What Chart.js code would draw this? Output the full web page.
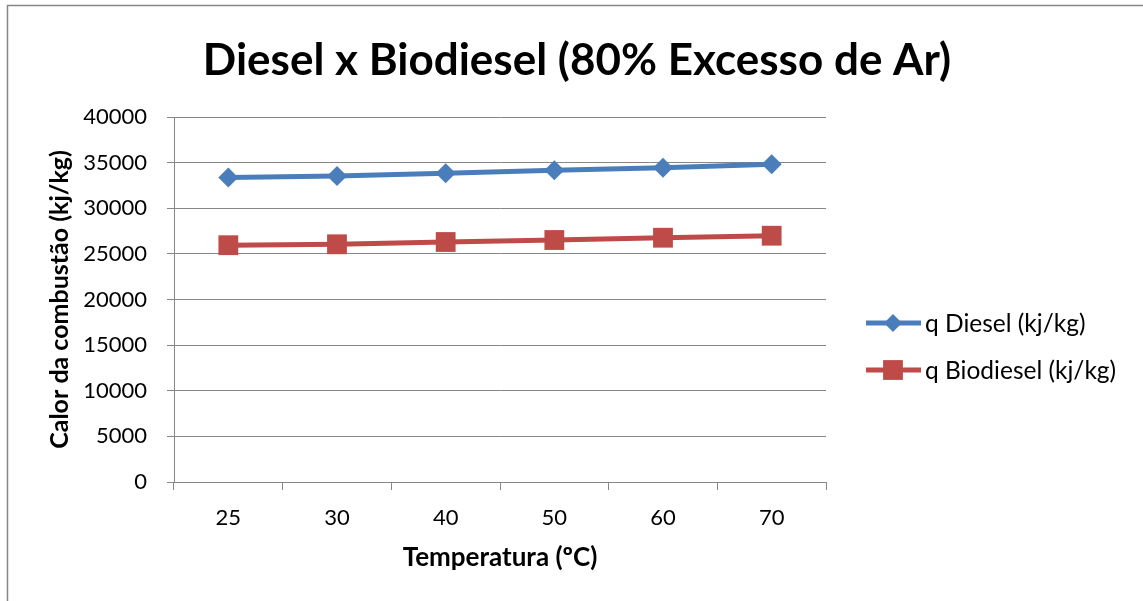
<!DOCTYPE html>
<html>
<head>
<meta charset="utf-8">
<script src="https://cdn.jsdelivr.net/npm/chart.js@4"></script>
<style>
  html, body { margin: 0; padding: 0; background: #fff; }
  #wrap { width: 1143px; height: 601px; position: relative; }
</style>
</head>
<body>
<div id="wrap"><canvas id="chart" width="1143" height="601"></canvas></div>
<script>
var titulo = 'Diesel x Biodiesel (80% Excesso de Ar)'
var temperaturas = ['25', '30', '40', '50', '60', '70']
var qDiesel = [33370, 33540, 33840, 34160, 34450, 34810]
var qBiodiesel = [25950, 26050, 26300, 26520, 26770, 26990]
var serieNomes = ['q Diesel (kj/kg)', 'q Biodiesel (kj/kg)']

var azul = '#4A7EBB'
var vermelho = '#BE4B48'
var cinza = '#868686'
var fonte = 'Lato, "Open Sans", sans-serif'

// moldura, titulo e legenda no estilo do Excel
var extras = {
	id: 'extras',
	afterDraw: function (chart) {
		var ctx = chart.ctx
		ctx.save()
		ctx.strokeStyle = cinza
		ctx.lineWidth = 1.5
		ctx.beginPath()
		ctx.moveTo(7.5, 700)
		ctx.lineTo(7.5, 5.5)
		ctx.lineTo(1143, 5.5)
		ctx.stroke()

		ctx.fillStyle = '#000'
		ctx.font = 'bold 44px ' + fonte
		ctx.textAlign = 'center'
		ctx.textBaseline = 'middle'
		ctx.fillText(titulo, 577, 61)

		var itens = [
			{ nome: serieNomes[0], cor: azul, estilo: 'rectRot', r: 9, y: 323 },
			{ nome: serieNomes[1], cor: vermelho, estilo: 'rect', r: 14, y: 370 }
		]
		itens.forEach(function (it) {
			ctx.strokeStyle = it.cor
			ctx.lineWidth = 5
			ctx.beginPath()
			ctx.moveTo(866, it.y)
			ctx.lineTo(921, it.y)
			ctx.stroke()
			ctx.fillStyle = it.cor
			Chart.helpers.drawPoint(ctx, { pointStyle: it.estilo, radius: it.r, borderWidth: 0 }, 893, it.y)
			ctx.fillStyle = '#000'
			ctx.font = '24.5px ' + fonte
			ctx.textBaseline = 'middle'
			ctx.textAlign = 'left'
			ctx.fillText(it.nome, 925, it.y + 1)
		})
		ctx.restore()
	}
}

var ctx = document.getElementById('chart').getContext('2d')
var myChart = new Chart(ctx, {
	type: 'line',
	data: {
		labels: temperaturas,
		datasets: [{
			label: serieNomes[0],
			data: qDiesel,
			borderColor: azul,
			backgroundColor: azul,
			borderWidth: 5,
			pointStyle: 'rectRot',
			pointRadius: 10,
			pointBorderWidth: 0,
			tension: 0
		}, {
			label: serieNomes[1],
			data: qBiodiesel,
			borderColor: vermelho,
			backgroundColor: vermelho,
			borderWidth: 5,
			pointStyle: 'rect',
			pointRadius: 14,
			pointBorderWidth: 0,
			tension: 0
		}]
	},
	options: {
		responsive: false,
		animation: false,
		devicePixelRatio: 1,
		layout: { padding: { left: 0, top: 117, right: 317, bottom: 0 } },
		plugins: {
			legend: { display: false },
			tooltip: { enabled: false },
			title: { display: false }
		},
		scales: {
			x: {
				offset: true,
				grid: { display: true, drawOnChartArea: false, drawTicks: true, tickLength: 8, offset: true, color: cinza },
				border: { display: true, color: cinza, width: 1 },
				ticks: { color: '#000', padding: 15, font: { family: fonte, size: 22 } },
				title: {
					display: true,
					text: 'Temperatura (ºC)',
					color: '#000',
					font: { family: fonte, size: 26, weight: 'bold', lineHeight: 1.2 },
					padding: { top: 0, bottom: 28 }
				},
				afterFit: function (s) { s.height = 119 }
			},
			y: {
				min: 0,
				max: 40000,
				grid: { color: cinza, drawTicks: true, tickLength: 7 },
				border: { display: true, color: cinza, width: 1 },
				ticks: {
					stepSize: 5000,
					color: '#000',
					padding: 20,
					font: { family: fonte, size: 22 },
					callback: function (v) { return String(v) }
				},
				title: {
					display: true,
					text: 'Calor da combustão (kj/kg)',
					color: '#000',
					font: { family: fonte, size: 25, weight: 'bold', lineHeight: 1.2 },
					padding: { top: 45, bottom: 0 }
				},
				afterFit: function (s) { s.width = 174 }
			}
		}
	},
	plugins: [extras]
})
</script>
</body>
</html>
